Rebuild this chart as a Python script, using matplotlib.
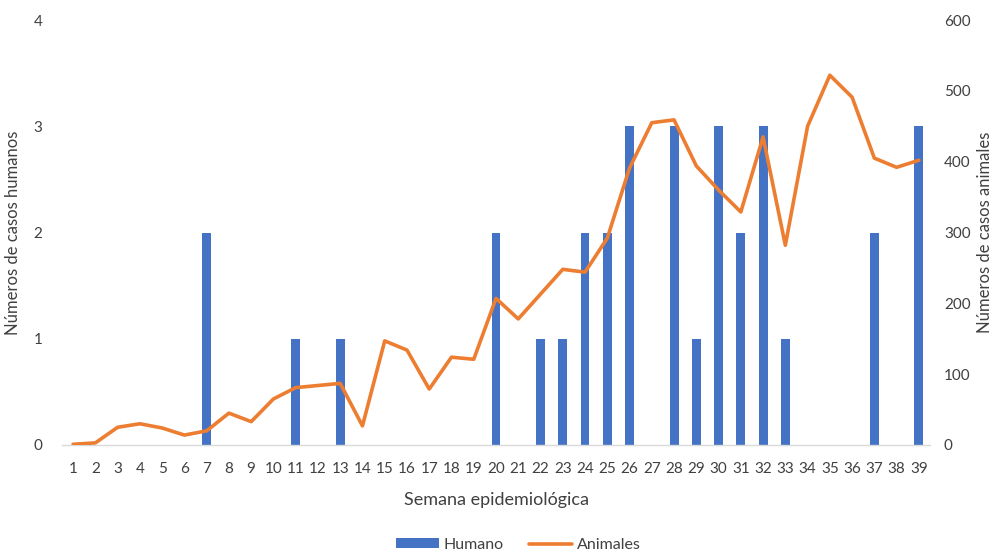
import matplotlib.pyplot as plt
import numpy as np

plt.rcParams['font.family'] = ['Lato', 'DejaVu Sans']

weeks = list(range(1, 40))
humanos = [0, 0, 0, 0, 0, 0, 2, 0, 0, 0,
           1, 0, 1, 0, 0, 0, 0, 0, 0, 2,
           0, 1, 1, 2, 2, 3, 0, 3, 1, 3,
           2, 3, 1, 0, 0, 0, 2, 0, 3]
animales = [1, 3, 25, 30, 24, 14, 20, 45, 33, 65,
            81, 84, 87, 27, 147, 134, 79, 124, 121, 207,
            178, 213, 248, 244, 292, 391, 455, 459, 394, 360,
            329, 435, 282, 450, 522, 491, 405, 392, 402]

bar_color = '#4472C4'
line_color = '#ED7D31'
text_color = '#404040'

fig = plt.figure(figsize=(9.97, 5.54), dpi=100)
ax = fig.add_axes([62 / 997, 1 - 445 / 554, (930 - 62) / 997, (445 - 20) / 554])
ax2 = ax.twinx()

bars = ax.bar(weeks, humanos, width=0.4, color=bar_color, zorder=2, label='Humano')
line, = ax2.plot(weeks, animales, color=line_color, lw=2.6,
                 solid_joinstyle='round', solid_capstyle='round', label='Animales')

ax.set_xlim(0.5, 39.5)
ax.set_ylim(0, 4)
ax2.set_ylim(0, 600)
ax.set_yticks([0, 1, 2, 3, 4])
ax2.set_yticks(range(0, 601, 100))
ax.set_xticks(weeks)
ax.set_xticklabels([str(w) for w in weeks])

for a in (ax, ax2):
    for s in a.spines.values():
        s.set_visible(False)
    a.tick_params(length=0, labelsize=11, colors=text_color)
ax.spines['bottom'].set_visible(True)
ax.spines['bottom'].set_color('#D9D9D9')
ax.spines['bottom'].set_linewidth(1)
ax.tick_params(axis='y', pad=14)
ax2.tick_params(axis='y', pad=10)
ax.tick_params(axis='x', pad=12)

ax.set_xlabel('Semana epidemiológica', fontsize=13, color=text_color, labelpad=12)
ax.set_ylabel('Números de casos humanos', fontsize=12, color=text_color, labelpad=9)
ax2.set_ylabel('Números de casos animales', fontsize=12, color=text_color,
               rotation=90, labelpad=5)

fig.legend([bars, line], ['Humano', 'Animales'], loc='lower center',
           bbox_to_anchor=(0.52, -0.022), ncol=2, frameon=False, fontsize=11.5,
           handlelength=2.7, handleheight=0.55, columnspacing=1.6, handletextpad=0.3,
           labelcolor=text_color)

fig.savefig('out.png', dpi=100)
